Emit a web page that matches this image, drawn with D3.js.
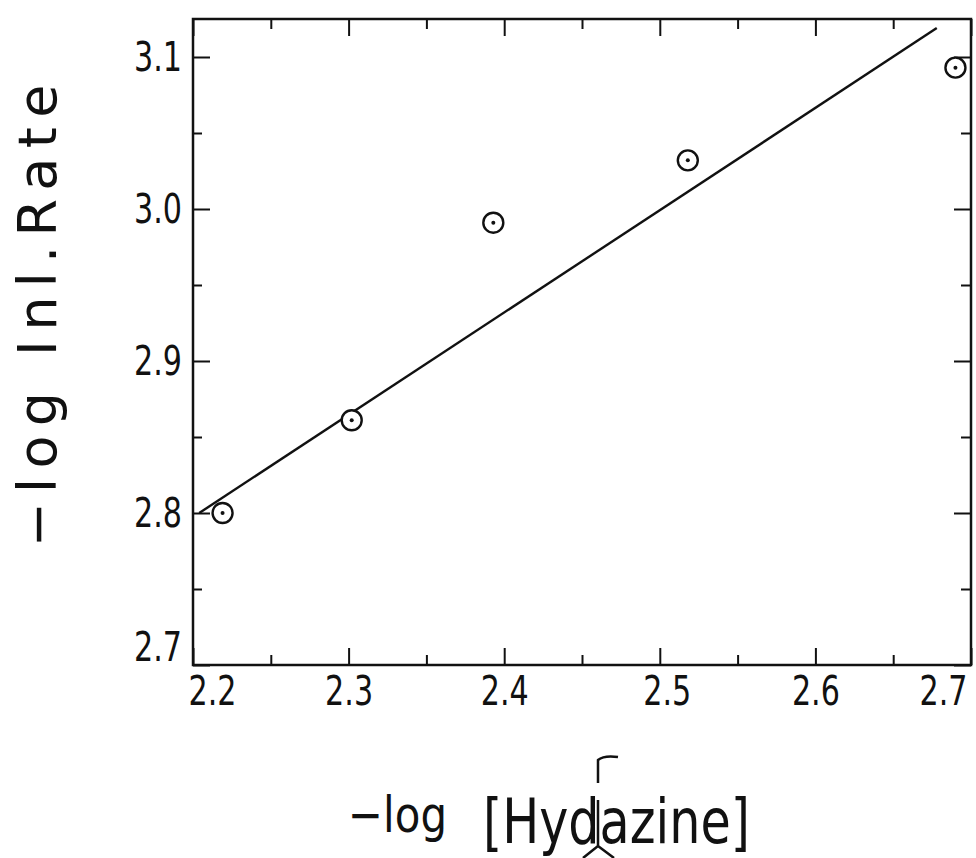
<!DOCTYPE html>
<html>
<head>
<meta charset="utf-8">
<script src="https://cdn.jsdelivr.net/npm/d3@7"></script>
<style>
  body { margin: 0; background: #fff; }
  text { font-family: "DejaVu Sans", sans-serif; fill: #111; }
</style>
</head>
<body>
<div id="chart"></div>
<script>
// data
var hydrazine = [2.219, 2.302, 2.393, 2.518, 2.690];   // -log [Hydazine]
var inlRate   = [2.800, 2.861, 2.991, 3.032, 3.093];   // -log Inl.Rate
var fitX = [2.204, 2.678];
var fitY = [2.800, 3.119];

var xMajor = [2.2, 2.3, 2.4, 2.5, 2.6, 2.7];
var xMinor = [2.25, 2.35, 2.45, 2.55, 2.65];
var yMajor = [2.7, 2.8, 2.9, 3.0, 3.1];
var yMinor = [2.75, 2.85, 2.95, 3.05];

var width = 976, height = 858;
var plotLeft = 193, plotRight = 971, plotTop = 19, plotBottom = 665;

var svg = d3.select('#chart').append('svg')
  .attr('width', width)
  .attr('height', height);

var x = d3.scaleLinear().domain([2.2, 2.7]).range([plotLeft, plotRight]);
var y = d3.scaleLinear().domain([2.7, 3.125]).range([plotBottom, plotTop]);
var fmt = d3.format('.1f');

function styleAxis(g) {
  g.select('.domain').remove();
  g.selectAll('line').attr('stroke', '#111').attr('stroke-width', 2);
  g.selectAll('text').attr('font-size', 41).attr('fill', '#111')
    .attr('textLength', 48).attr('lengthAdjust', 'spacingAndGlyphs');
}

// bottom axis - ticks point inward
svg.append('g').attr('transform', 'translate(0,' + plotBottom + ')')
  .call(d3.axisBottom(x).tickValues(xMajor).tickSize(-17).tickPadding(11).tickFormat(fmt))
  .call(styleAxis)
  .selectAll('text')
  .attr('dx', function(d) { return d === 2.2 ? 19 : d === 2.7 ? -28 : d === 2.5 ? 7 : 0; });
svg.append('g').attr('transform', 'translate(0,' + plotBottom + ')')
  .call(d3.axisBottom(x).tickValues(xMinor).tickSize(-10).tickFormat(''))
  .call(styleAxis);

// top axis
svg.append('g').attr('transform', 'translate(0,' + plotTop + ')')
  .call(d3.axisTop(x).tickValues(xMajor).tickSize(-17).tickFormat(''))
  .call(styleAxis);
svg.append('g').attr('transform', 'translate(0,' + plotTop + ')')
  .call(d3.axisTop(x).tickValues(xMinor).tickSize(-10).tickFormat(''))
  .call(styleAxis);

// left axis
svg.append('g').attr('transform', 'translate(' + plotLeft + ',0)')
  .call(d3.axisLeft(y).tickValues(yMajor).tickSize(-17).tickPadding(11).tickFormat(fmt))
  .call(styleAxis)
  .selectAll('text')
  .attr('y', function(d) { return d === 2.7 ? -18 : 0; });
svg.append('g').attr('transform', 'translate(' + plotLeft + ',0)')
  .call(d3.axisLeft(y).tickValues(yMinor).tickSize(-9).tickFormat(''))
  .call(styleAxis);

// right axis
svg.append('g').attr('transform', 'translate(' + plotRight + ',0)')
  .call(d3.axisRight(y).tickValues(yMajor).tickSize(-17).tickFormat(''))
  .call(styleAxis);
svg.append('g').attr('transform', 'translate(' + plotRight + ',0)')
  .call(d3.axisRight(y).tickValues(yMinor).tickSize(-10).tickFormat(''))
  .call(styleAxis);

// frame
svg.append('rect')
  .attr('x', plotLeft).attr('y', plotTop)
  .attr('width', plotRight - plotLeft).attr('height', plotBottom - plotTop)
  .attr('fill', 'none').attr('stroke', '#111').attr('stroke-width', 2.5);

// fitted line
var line = d3.line()
  .x(function(d, i) { return x(fitX[i]); })
  .y(function(d) { return y(d); });
svg.append('path')
  .datum(fitY)
  .attr('d', line)
  .attr('fill', 'none')
  .attr('stroke', '#111')
  .attr('stroke-width', 2.4);

// points: circle with dot
var pts = svg.selectAll('.pt')
  .data(hydrazine)
  .enter().append('g')
  .attr('class', 'pt')
  .attr('transform', function(d, i) { return 'translate(' + x(d) + ',' + y(inlRate[i]) + ')'; });
pts.append('circle').attr('r', 10).attr('fill', '#fff').attr('stroke', '#111').attr('stroke-width', 2.4);
pts.append('circle').attr('r', 2).attr('fill', '#111');

// axis titles
svg.append('text')
  .attr('transform', 'translate(56,316) rotate(-90)')
  .attr('text-anchor', 'middle')
  .attr('font-size', 54)
  .attr('textLength', 463)
  .attr('lengthAdjust', 'spacing')
  .text('\u2212log Inl.Rate');

svg.append('text')
  .attr('x', 348).attr('y', 832)
  .attr('font-size', 50)
  .attr('textLength', 99)
  .attr('lengthAdjust', 'spacingAndGlyphs')
  .text('\u2212log');
svg.append('text')
  .attr('x', 483).attr('y', 843)
  .attr('font-size', 62)
  .attr('textLength', 267)
  .attr('lengthAdjust', 'spacingAndGlyphs')
  .text('[Hydazine]');

// hand-written insertion mark between "d" and "a"
var mark = svg.append('g').attr('fill', 'none').attr('stroke', '#111').attr('stroke-width', 2.5);
mark.append('path').attr('d', 'M598,783 L598,760 Q604,755 618,757');
mark.append('path').attr('d', 'M598,800 L598,846 M598,846 L583,858 M598,846 L614,858');
</script>
</body>
</html>
